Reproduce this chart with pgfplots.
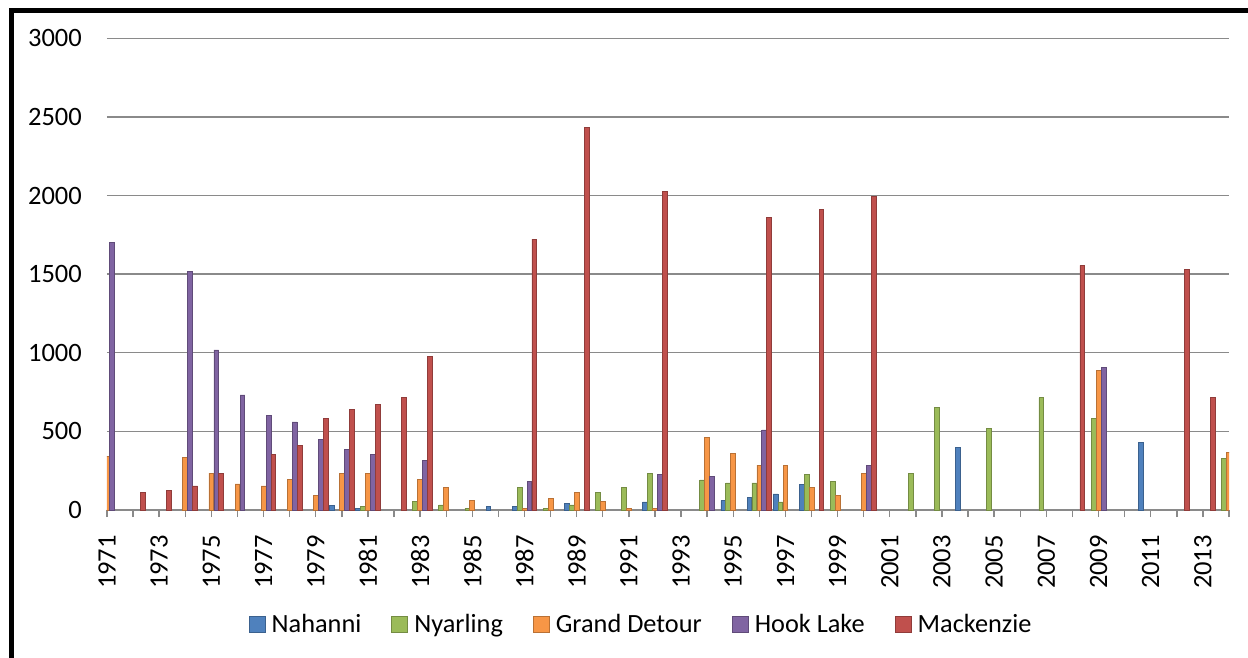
\documentclass[border=0pt]{standalone}
\usepackage{fontspec}
\setmainfont{Carlito}
\usepackage{pgfplots}
\pgfplotsset{compat=1.18}

\definecolor{cNah}{HTML}{4F81BD}
\definecolor{cNya}{HTML}{9BBB59}
\definecolor{cGD}{HTML}{F79646}
\definecolor{cHL}{HTML}{8064A2}
\definecolor{cMac}{HTML}{C0504D}
\definecolor{gridgray}{HTML}{8A8A8A}

\pgfplotsset{sqlegend/.style={legend image code/.code={%
  \draw[##1,line width=1pt] (0pt,-8pt) rectangle (16pt,8pt);}}}

\begin{document}
\begin{tikzpicture}
\path[use as bounding box] (0pt,0pt) rectangle (1248pt,657pt);
\draw[line width=4.5pt] (11.5pt,-5pt) -- (11.5pt,646.5pt) -- (1253pt,646.5pt);
\begin{axis}[
    at={(107pt,147pt)}, anchor=south west,
    scale only axis, width=1122pt, height=471.7pt,
    ybar,
    bar width=0.185,
    xmin=1971, xmax=2014,
    ymin=0, ymax=3000,
    ytick={0,500,...,3000},
    xtick={1971,1973,...,2013},
    extra x ticks={1972,1974,...,2014},
    extra x tick labels={},
    /pgf/number format/1000 sep={},
    /pgf/number format/assume math mode=true,
    tick label style={font=\fontsize{26.5}{32}\selectfont},
    xticklabel style={yshift=-18pt, rotate=90, anchor=east, inner sep=0pt},
    yticklabel style={anchor=east, inner sep=0pt, xshift=-18pt},
    axis lines*=left,
    x axis line style={draw=gridgray, line width=1.4pt},
    y axis line style={draw=none},
    tick align=outside,
    major tick length=7pt,
    xtick style={draw=gridgray, line width=1.4pt},
    ytick style={draw=none},
    ymajorgrids,
    grid style={draw=gridgray, line width=1.4pt},
    every axis plot post/.append style={sqlegend},
    legend columns=-1,
    legend style={at={(0.476,-0.2427)}, anchor=center, draw=none, fill=none,
        font=\fontsize{26.3}{32}\selectfont,
        /tikz/every odd column/.append style={column sep=4pt},
        /tikz/every even column/.append style={column sep=28pt}},
]
% Nahanni
\addplot[fill=cNah, draw=cNah!75!black, line width=0.8pt, bar shift=-0.38] coordinates {
(1980,30) (1981,11) (1986,21) (1987,21) (1989,43) (1992,51) (1995,62) (1996,81)
(1997,102) (1998,164) (2004,398) (2011,430)
};
% Nyarling
\addplot[fill=cNya, draw=cNya!75!black, line width=0.8pt, bar shift=-0.19] coordinates {
(1981,21) (1983,53) (1984,32) (1985,11) (1987,143) (1988,11) (1989,32) (1990,113)
(1991,143) (1992,234) (1994,191) (1995,172) (1996,172) (1997,51) (1998,226)
(1999,183) (2002,234) (2003,653) (2005,521) (2007,713) (2009,583) (2014,326)
};
% Grand Detour
\addplot[fill=cGD, draw=cGD!75!black, line width=0.8pt, bar shift=0] coordinates {
(1971,340) (1974,336) (1975,234) (1976,166) (1977,153) (1978,196) (1979,91)
(1980,234) (1981,234) (1983,196) (1984,143) (1985,62) (1987,11) (1988,72)
(1989,113) (1990,53) (1991,11) (1992,11) (1994,460) (1995,357) (1996,285)
(1997,285) (1998,143) (1999,91) (2000,234) (2009,889) (2014,368)
};
% Hook Lake
\addplot[fill=cHL, draw=cHL!75!black, line width=0.8pt, bar shift=0.19] coordinates {
(1971,1700) (1974,1516) (1975,1018) (1976,732) (1977,600) (1978,560) (1979,448)
(1980,386) (1981,356) (1983,318) (1987,183) (1992,225) (1994,212) (1996,509)
(2000,284) (2009,908)
};
% Mackenzie
\addplot[fill=cMac, draw=cMac!75!black, line width=0.8pt, bar shift=0.38] coordinates {
(1972,113) (1973,123) (1974,153) (1975,233) (1977,356) (1978,408) (1979,581)
(1980,641) (1981,672) (1982,715) (1983,978) (1987,1722) (1989,2431) (1992,2025)
(1996,1861) (1998,1912) (2000,1995) (2008,1556) (2012,1528) (2013,713)
};
\legend{Nahanni, Nyarling, Grand Detour, Hook Lake, Mackenzie}
\end{axis}
\end{tikzpicture}
\end{document}
